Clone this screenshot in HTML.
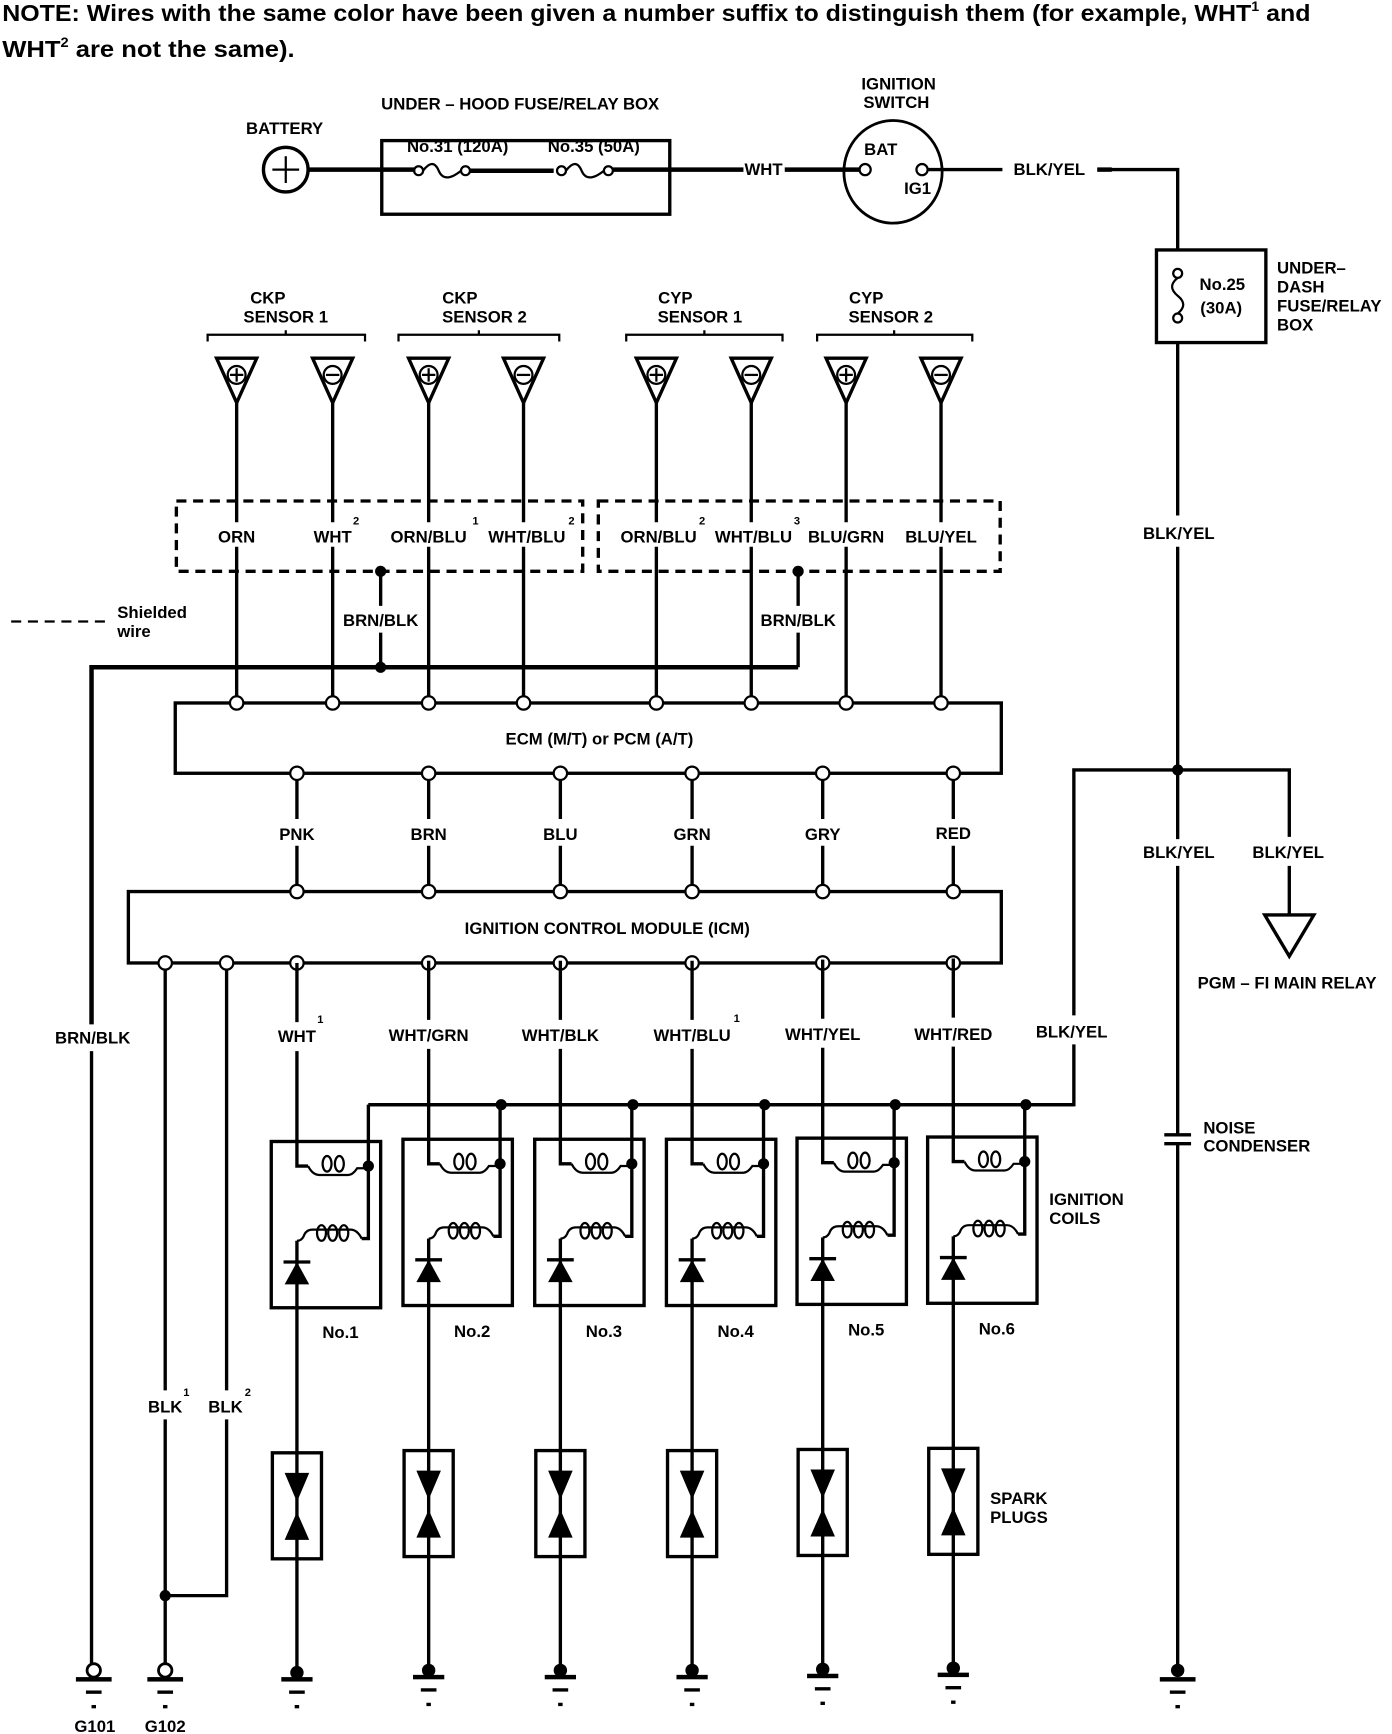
<!DOCTYPE html>
<html><head><meta charset="utf-8"><style>
html,body{margin:0;padding:0;background:#fff;}
svg{display:block;}
text{font-family:"Liberation Sans Narrow","Liberation Sans",sans-serif;font-weight:bold;fill:#000;}
</style></head><body>
<svg width="1392" height="1734" viewBox="0 0 1247 1554" preserveAspectRatio="none" xmlns="http://www.w3.org/2000/svg">
<text x="2" y="19" font-size="21" textLength="1172" lengthAdjust="spacingAndGlyphs">NOTE:  Wires with the same color have been given a number suffix to distinguish them (for example, WHT<tspan font-size="12" dy="-9">1</tspan><tspan dy="9"> and</tspan></text>
<text x="2" y="51" font-size="21" textLength="262" lengthAdjust="spacingAndGlyphs">WHT<tspan font-size="12" dy="-9">2</tspan><tspan dy="9">  are not the same).</tspan></text>

<g font-size="15" text-anchor="middle">
<text x="255" y="120">BATTERY</text>
<text x="466" y="98">UNDER – HOOD FUSE/RELAY BOX</text>
<text x="410" y="136">No.31 (120A)</text>
<text x="532" y="136">No.35 (50A)</text>
<text x="684" y="157">WHT</text>
<text x="805" y="80">IGNITION</text>
<text x="803" y="97">SWITCH</text>
<text x="789" y="139">BAT</text>
<text x="822" y="174">IG1</text>
<text x="940" y="157">BLK/YEL</text>
<text x="1095" y="260">No.25</text>
<text x="1094" y="281">(30A)</text>
</g>
<g font-size="15">
<text x="1144" y="245">UNDER–</text>
<text x="1144" y="262">DASH</text>
<text x="1144" y="279">FUSE/RELAY</text>
<text x="1144" y="296">BOX</text>
</g>

<g stroke="#000" fill="none" stroke-width="3">
<circle cx="256" cy="152" r="20"/>
<line x1="244" y1="152" x2="268" y2="152" stroke-width="2"/>
<line x1="256" y1="140" x2="256" y2="164" stroke-width="2"/>
<line x1="276" y1="152" x2="372" y2="152" stroke-width="4"/>
<rect x="342" y="126" width="258" height="66"/>
<circle cx="375" cy="153" r="4" stroke-width="2"/><circle cx="417" cy="153" r="4" stroke-width="2"/>
<path d="M379,153 q9,-12 14,0 q5,12 20,0" stroke-width="2"/>
<line x1="421" y1="153" x2="496" y2="153" stroke-width="4"/>
<circle cx="503" cy="153" r="4" stroke-width="2"/><circle cx="545" cy="153" r="4" stroke-width="2"/>
<path d="M507,153 q9,-12 14,0 q5,12 20,0" stroke-width="2"/>
<line x1="549" y1="152" x2="666" y2="152" stroke-width="4"/>
<line x1="703" y1="152" x2="771" y2="152" stroke-width="4"/>
<ellipse cx="800" cy="154" rx="44" ry="46" stroke-width="2.5"/>
<circle cx="775" cy="152" r="5" stroke-width="2"/>
<circle cx="826" cy="152" r="5" stroke-width="2"/>
<line x1="831" y1="152" x2="898" y2="152" stroke-width="3"/>
<path d="M983,152 H1055 V224" stroke-width="3"/>
<line x1="983" y1="152" x2="996" y2="152" stroke-width="4"/>
<rect x="1036" y="224" width="98" height="83"/>
<circle cx="1055" cy="245" r="4" stroke-width="2"/><circle cx="1055" cy="285" r="4" stroke-width="2"/>
<path d="M1055,249 q-10,8 0,16 q10,8 0,16" stroke-width="2"/>
<line x1="1055" y1="307" x2="1055" y2="462" stroke-width="3"/>
<line x1="1055" y1="490" x2="1055" y2="752" stroke-width="3"/>
<line x1="1055" y1="776" x2="1055" y2="1016" stroke-width="3"/>
<line x1="1043" y1="1017" x2="1067" y2="1017" stroke-width="3"/>
<line x1="1043" y1="1025" x2="1067" y2="1025" stroke-width="3"/>
<line x1="1055" y1="1025" x2="1055" y2="1500" stroke-width="3"/>
<path d="M962,910 V690 H1155 V750" stroke-width="3"/>
<line x1="1155" y1="776" x2="1155" y2="820" stroke-width="3"/>
<polygon points="1133,820 1177,820 1155,857" stroke-width="3"/>
<path d="M962,936 V990 H330" stroke-width="3"/>
</g>
<g fill="#000"><circle cx="1055" cy="690" r="5"/></g>
<g font-size="15" text-anchor="middle">
<text x="1056" y="483">BLK/YEL</text>
<text x="1056" y="769">BLK/YEL</text>
<text x="1154" y="769">BLK/YEL</text>
<text x="1153" y="886">PGM – FI MAIN RELAY</text>
<text x="960" y="930">BLK/YEL</text>
</g>
<g font-size="15">
<text x="1078" y="1016">NOISE</text>
<text x="1078" y="1032">CONDENSER</text>
<text x="940" y="1080">IGNITION</text>
<text x="940" y="1097">COILS</text>
<text x="887" y="1348">SPARK</text>
<text x="887" y="1365">PLUGS</text>
</g>

<g font-size="15" text-anchor="middle">
<text x="240" y="272">CKP</text><text x="256" y="289">SENSOR 1</text>
<text x="412" y="272">CKP</text><text x="434" y="289">SENSOR 2</text>
<text x="605" y="272">CYP</text><text x="627" y="289">SENSOR 1</text>
<text x="776" y="272">CYP</text><text x="798" y="289">SENSOR 2</text>
</g>
<g stroke="#000" fill="none" stroke-width="2">
<path d="M186,306 V300 H327 V306 M256,300 v-4"/>
<path d="M357,306 V300 H501 V306 M429,300 v-4"/>
<path d="M561,306 V300 H701 V306 M631,300 v-4"/>
<path d="M732,306 V300 H871 V306 M801,300 v-4"/>
</g>
<g stroke="#000" fill="none" stroke-width="3">
<polygon points="194,321 230,321 212,361"/><circle cx="212" cy="336" r="8" stroke-width="2"/><path d="M206,336 h12 M212,330 v12" stroke-width="2"/>
<polygon points="280,321 316,321 298,361"/><circle cx="298" cy="336" r="8" stroke-width="2"/><path d="M292,336 h12" stroke-width="2"/>
<polygon points="366,321 402,321 384,361"/><circle cx="384" cy="336" r="8" stroke-width="2"/><path d="M378,336 h12 M384,330 v12" stroke-width="2"/>
<polygon points="451,321 487,321 469,361"/><circle cx="469" cy="336" r="8" stroke-width="2"/><path d="M463,336 h12" stroke-width="2"/>
<polygon points="570,321 606,321 588,361"/><circle cx="588" cy="336" r="8" stroke-width="2"/><path d="M582,336 h12 M588,330 v12" stroke-width="2"/>
<polygon points="655,321 691,321 673,361"/><circle cx="673" cy="336" r="8" stroke-width="2"/><path d="M667,336 h12" stroke-width="2"/>
<polygon points="740,321 776,321 758,361"/><circle cx="758" cy="336" r="8" stroke-width="2"/><path d="M752,336 h12 M758,330 v12" stroke-width="2"/>
<polygon points="825,321 861,321 843,361"/><circle cx="843" cy="336" r="8" stroke-width="2"/><path d="M837,336 h12" stroke-width="2"/>
<path d="M212,361 V468 M212,490 V626 M298,361 V468 M298,490 V626 M384,361 V468 M384,490 V626 M469,361 V468 M469,490 V626 M588,361 V468 M588,490 V626 M673,361 V468 M673,490 V626 M758,361 V468 M758,490 V626 M843,361 V468 M843,490 V626"/>
<rect x="158" y="449" width="364" height="63" stroke-dasharray="9,6"/>
<rect x="536" y="449" width="360" height="63" stroke-dasharray="9,6"/>
<line x1="10" y1="557" x2="95" y2="557" stroke-dasharray="9,6" stroke-width="2"/>
<path d="M341,512 V543 M341,567 V598 M715,512 V543 M715,567 V598" />
<path d="M82,918 V598 H715" stroke-width="4"/>
<path d="M82,942 V1501"/>
<rect x="157" y="630" width="740" height="63"/>
<path d="M266,693 V734 M266,758 V798 M384,693 V734 M384,758 V798 M502,693 V734 M502,758 V798 M620,693 V734 M620,758 V798 M737,693 V734 M737,758 V798 M854,693 V734 M854,758 V798"/>
<rect x="115" y="799" width="782" height="64"/>
<path d="M148,863 V1246 M148,1272 V1501 M203,863 V1246 M203,1272 V1430 H148"/>
</g>
<g fill="#000">
<circle cx="341" cy="512" r="5"/><circle cx="715" cy="512" r="5"/><circle cx="341" cy="598" r="5"/><circle cx="148" cy="1430" r="5"/>
</g>
<g fill="#fff" stroke="#000" stroke-width="2">
<circle cx="212" cy="630" r="6"/><circle cx="298" cy="630" r="6"/><circle cx="384" cy="630" r="6"/><circle cx="469" cy="630" r="6"/><circle cx="588" cy="630" r="6"/><circle cx="673" cy="630" r="6"/><circle cx="758" cy="630" r="6"/><circle cx="843" cy="630" r="6"/>
<circle cx="266" cy="693" r="6"/><circle cx="384" cy="693" r="6"/><circle cx="502" cy="693" r="6"/><circle cx="620" cy="693" r="6"/><circle cx="737" cy="693" r="6"/><circle cx="854" cy="693" r="6"/>
<circle cx="266" cy="799" r="6"/><circle cx="384" cy="799" r="6"/><circle cx="502" cy="799" r="6"/><circle cx="620" cy="799" r="6"/><circle cx="737" cy="799" r="6"/><circle cx="854" cy="799" r="6"/>
<circle cx="148" cy="863" r="6"/><circle cx="203" cy="863" r="6"/><circle cx="266" cy="863" r="6"/><circle cx="384" cy="863" r="6"/><circle cx="502" cy="863" r="6"/><circle cx="620" cy="863" r="6"/><circle cx="737" cy="863" r="6"/><circle cx="854" cy="863" r="6"/>
</g>
<g font-size="15" text-anchor="middle">
<text x="212" y="486">ORN</text>
<text x="298" y="486">WHT</text><text x="319" y="470" font-size="10">2</text>
<text x="384" y="486">ORN/BLU</text><text x="426" y="470" font-size="10">1</text>
<text x="472" y="486">WHT/BLU</text><text x="512" y="470" font-size="10">2</text>
<text x="590" y="486">ORN/BLU</text><text x="629" y="470" font-size="10">2</text>
<text x="675" y="486">WHT/BLU</text><text x="714" y="470" font-size="10">3</text>
<text x="758" y="486">BLU/GRN</text>
<text x="843" y="486">BLU/YEL</text>
<text x="341" y="561">BRN/BLK</text>
<text x="715" y="561">BRN/BLK</text>
<text x="537" y="667">ECM (M/T) or PCM (A/T)</text>
<text x="266" y="753">PNK</text><text x="384" y="753">BRN</text><text x="502" y="753">BLU</text><text x="620" y="753">GRN</text><text x="737" y="753">GRY</text><text x="854" y="752">RED</text>
<text x="544" y="837">IGNITION CONTROL MODULE (ICM)</text>
<text x="83" y="935">BRN/BLK</text>
<text x="266" y="934">WHT</text><text x="287" y="917" font-size="10">1</text>
<text x="384" y="933">WHT/GRN</text>
<text x="502" y="933">WHT/BLK</text>
<text x="620" y="933">WHT/BLU</text><text x="660" y="916" font-size="10">1</text>
<text x="737" y="932">WHT/YEL</text>
<text x="854" y="932">WHT/RED</text>
<text x="148" y="1266">BLK</text><text x="167" y="1251" font-size="10">1</text>
<text x="202" y="1266">BLK</text><text x="222" y="1251" font-size="10">2</text>
<text x="85" y="1552">G101</text><text x="148" y="1552">G102</text>
</g>
<g font-size="15"><text x="105" y="554">Shielded</text><text x="105" y="571">wire</text></g>

<g id="c1" transform="translate(266,0)">
<g stroke="#000" fill="none" stroke-width="3">
<path d="M0,863 V916 M0,942 V1045 H10"/>
<path d="M10,1045 q4,8 10,8 h26 q4,0 8,-6 h10" stroke-width="2"/>
<ellipse cx="27" cy="1043" rx="4" ry="7" stroke-width="2"/><ellipse cx="38" cy="1043" rx="4" ry="7" stroke-width="2"/>
<path d="M64,990 V1110 H58"/>
<path d="M58,1110 q-4,-8 -10,-8 h-34 q-6,0 -8,6 q-2,4 -6,4" stroke-width="2"/>
<ellipse cx="22" cy="1105" rx="4" ry="7" stroke-width="2"/><ellipse cx="32" cy="1105" rx="4" ry="7" stroke-width="2"/><ellipse cx="42" cy="1105" rx="4" ry="7" stroke-width="2"/>
<path d="M0,1112 V1500"/>
<line x1="-12" y1="1131" x2="12" y2="1131"/>
<rect x="-22" y="1302" width="44" height="95"/>
</g>
<g fill="#000">
<circle cx="64" cy="1045" r="5"/>
<polygon points="-11,1151 11,1151 0,1131"/>
<polygon points="-11,1320 11,1320 0,1346"/>
<polygon points="-11,1380 11,1380 0,1355"/>
<circle cx="0" cy="1499" r="6"/>
<rect x="-14" y="1503" width="28" height="4"/>
<rect x="-7" y="1515" width="14" height="3"/>
<rect x="-2" y="1528" width="4" height="3"/>
</g>
<rect x="-23" y="1023" width="98" height="149" fill="none" stroke="#000" stroke-width="3"/>
</g>
<use href="#c1" x="118" y="-2"/>
<use href="#c1" x="236" y="-2"/>
<use href="#c1" x="354" y="-2"/>
<use href="#c1" x="471" y="-3"/>
<use href="#c1" x="588" y="-4"/>
<line x1="330" y1="990" x2="962" y2="990" stroke="#000" stroke-width="3"/>
<g fill="#000">
<circle cx="449" cy="990" r="5"/><circle cx="567" cy="990" r="5"/><circle cx="685" cy="990" r="5"/><circle cx="802" cy="990" r="5"/><circle cx="919" cy="990" r="5"/>
</g>
<g font-size="15" text-anchor="middle">
<text x="305" y="1199">No.1</text><text x="423" y="1198">No.2</text><text x="541" y="1198">No.3</text><text x="659" y="1198">No.4</text><text x="776" y="1197">No.5</text><text x="893" y="1196">No.6</text>
</g>
<g stroke="#000" stroke-width="2.5" fill="#fff">
<circle cx="84" cy="1497" r="6"/><circle cx="148" cy="1497" r="6"/>
</g>
<g fill="#000">
<rect x="68" y="1503" width="32" height="4"/><rect x="77" y="1515" width="14" height="3"/><rect x="82" y="1528" width="4" height="3"/>
<rect x="132" y="1503" width="32" height="4"/><rect x="141" y="1515" width="14" height="3"/><rect x="146" y="1528" width="4" height="3"/>
<circle cx="1055" cy="1497" r="6"/>
<rect x="1039" y="1503" width="32" height="4"/><rect x="1048" y="1515" width="14" height="3"/><rect x="1053" y="1528" width="4" height="3"/>
</g>
</svg>
</body></html>
